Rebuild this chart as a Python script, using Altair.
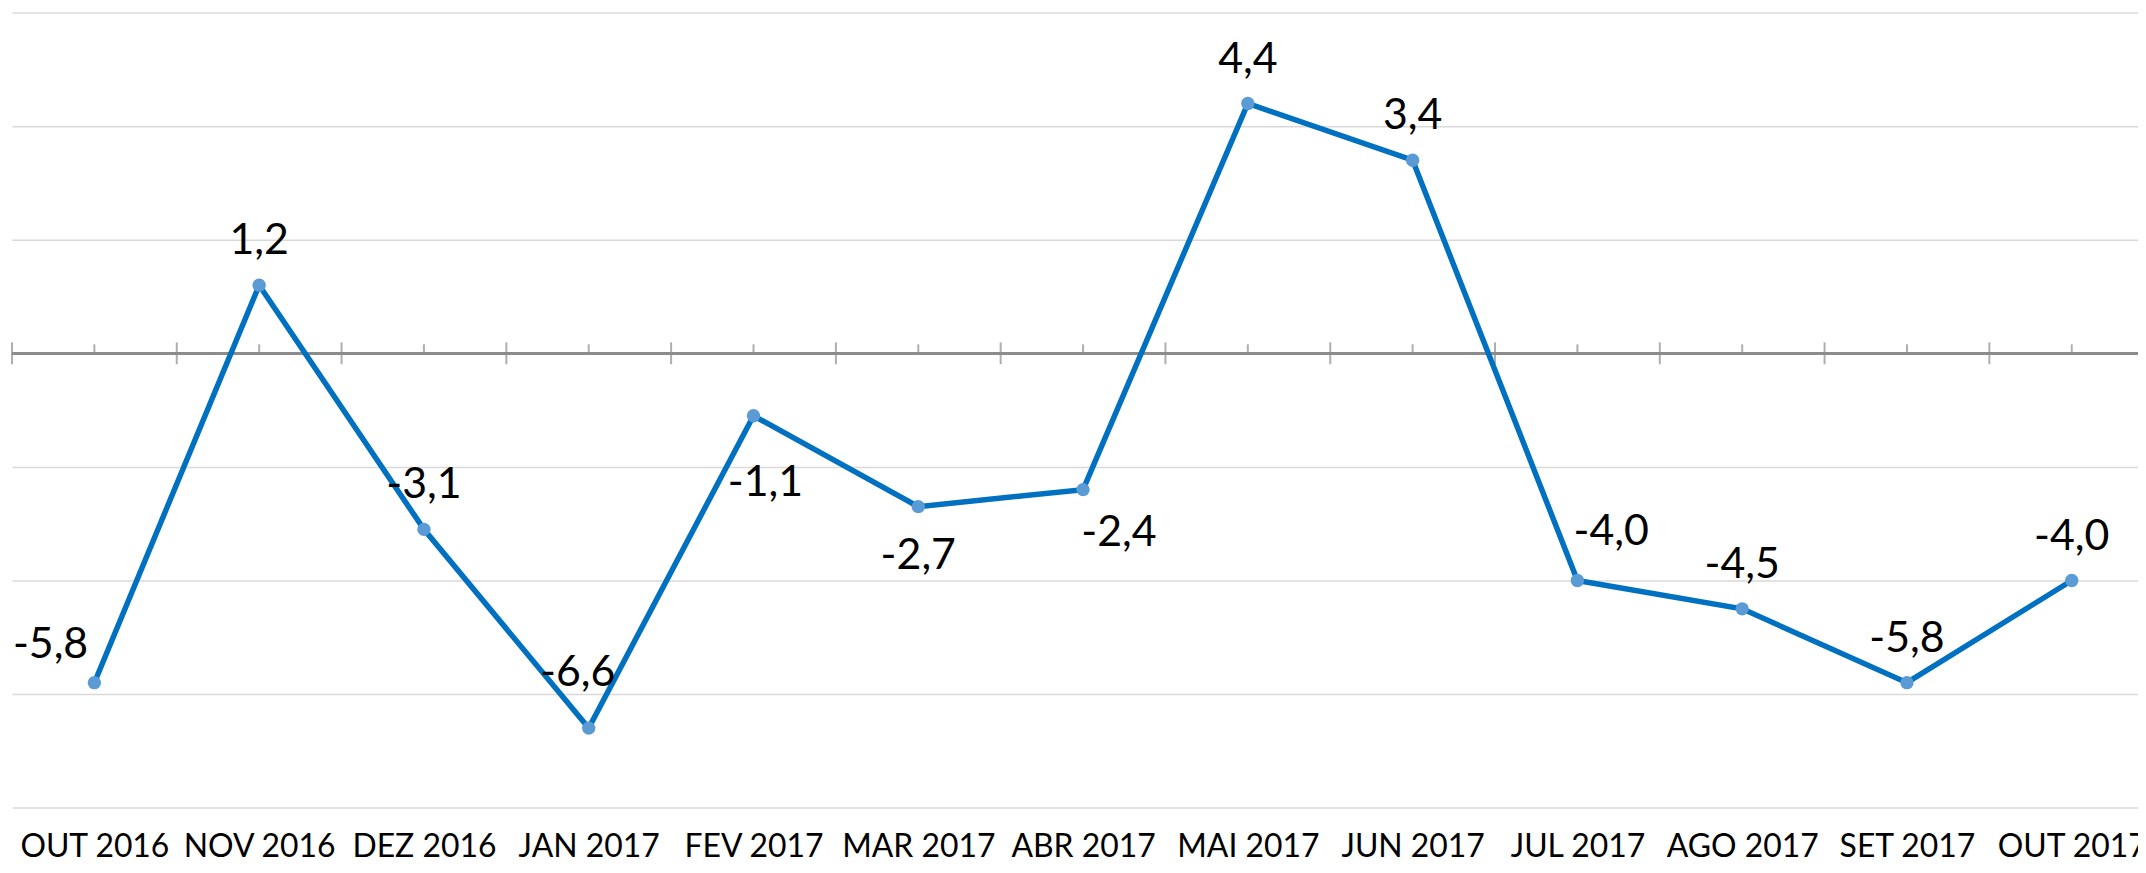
import json
import altair as alt
import pandas as pd

# ---- data ----
months = ["OUT 2016", "NOV 2016", "DEZ 2016", "JAN 2017", "FEV 2017", "MAR 2017",
          "ABR 2017", "MAI 2017", "JUN 2017", "JUL 2017", "AGO 2017", "SET 2017", "OUT 2017"]
values = [-5.8, 1.2, -3.1, -6.6, -1.1, -2.7, -2.4, 4.4, 3.4, -4.0, -4.5, -5.8, -4.0]
label_place = ["left", "above", "above", "above_high", "below_far", "below",
               "below_right", "above", "above", "above_right", "above", "above", "above"]
y_grid = [-8, -6, -4, -2, 0, 2, 4, 6]

# label offsets (style) per placement keyword
offsets = {
    "above": (0, -31),
    "left": (-44, -25),
    "above_high": (-11, -42),
    "above_right": (34, -36),
    "below": (0, 63),
    "below_far": (12, 81),
    "below_right": (36, 57),
}

df = pd.DataFrame({
    "idx": list(range(len(months))),
    "month": months,
    "value": values,
    "label": [f"{v:.1f}".replace(".", ",") for v in values],
    "place": label_place,
})
bounds = pd.DataFrame({"b": [i - 0.5 for i in range(len(months) + 1)]})

FONT = "Lato"
LINE = "#0070C0"
POINT = "#5B9BD5"
GRID = "#d9d9d9"
AXISC = "#8c8c8c"

PLOT_W = 2134
STEP = 165.4  # px per category in the reference; the last category is cut by the window edge
xscale = alt.Scale(domain=[-0.5, -0.5 + PLOT_W / STEP], nice=False, zero=False)
yscale = alt.Scale(domain=[-8, 6], nice=False, zero=False)

label_expr = json.dumps(months) + "[datum.value]"

xaxis = alt.Axis(values=list(range(len(months))), labelExpr=label_expr,
                 domain=False, ticks=False, tickSize=0, grid=False, title=None,
                 labelFont=FONT, labelFontSize=32, labelColor="black",
                 labelBaseline="alphabetic", labelPadding=49,
                 labelOverlap=False, labelBound=False, labelFlush=False)
yaxis = alt.Axis(values=y_grid, grid=True, gridColor=GRID, gridWidth=1.5,
                 labels=False, ticks=False, domain=False, title=None)


def X(field):
    return alt.X(field, scale=xscale, axis=xaxis)


def Y(field):
    return alt.Y(field, scale=yscale, axis=yaxis)


base = alt.Chart(df)

zero_line = base.mark_rule(color=AXISC, strokeWidth=2).encode(y=Y("zero:Q")).transform_calculate(zero="0")

major_ticks = alt.Chart(bounds).mark_tick(orient="vertical", color=AXISC, size=22, thickness=2).encode(
    x=X("b:Q"),
    y=alt.datum(0),
)

minor_ticks = base.mark_tick(orient="vertical", color=AXISC, size=9, thickness=2, yOffset=-4.5).encode(
    x=X("idx:Q"),
    y=alt.datum(0),
)

line = base.mark_line(color=LINE, strokeWidth=5.5).encode(x=X("idx:Q"), y=Y("value:Q"))

points = base.mark_circle(color=POINT, size=180, opacity=1).encode(x=X("idx:Q"), y=Y("value:Q"))

text_layers = []
for key, (dx, dy) in offsets.items():
    text_layers.append(
        base.transform_filter(alt.datum.place == key).mark_text(
            font=FONT, fontSize=43, color="black", align="center",
            baseline="alphabetic", dx=dx, dy=dy
        ).encode(x=X("idx:Q"), y=Y("value:Q"), text="label:N")
    )

chart = alt.layer(zero_line, major_ticks, minor_ticks, line, points, *text_layers).properties(
    width=PLOT_W,
    height=798,
    autosize=alt.AutoSizeParams(type="none"),
    padding={"left": 4, "top": 3, "right": 0, "bottom": 56},
    background="white",
).configure_view(stroke=None)

chart.save("out.html", embed_options={"renderer": "svg", "actions": False})
